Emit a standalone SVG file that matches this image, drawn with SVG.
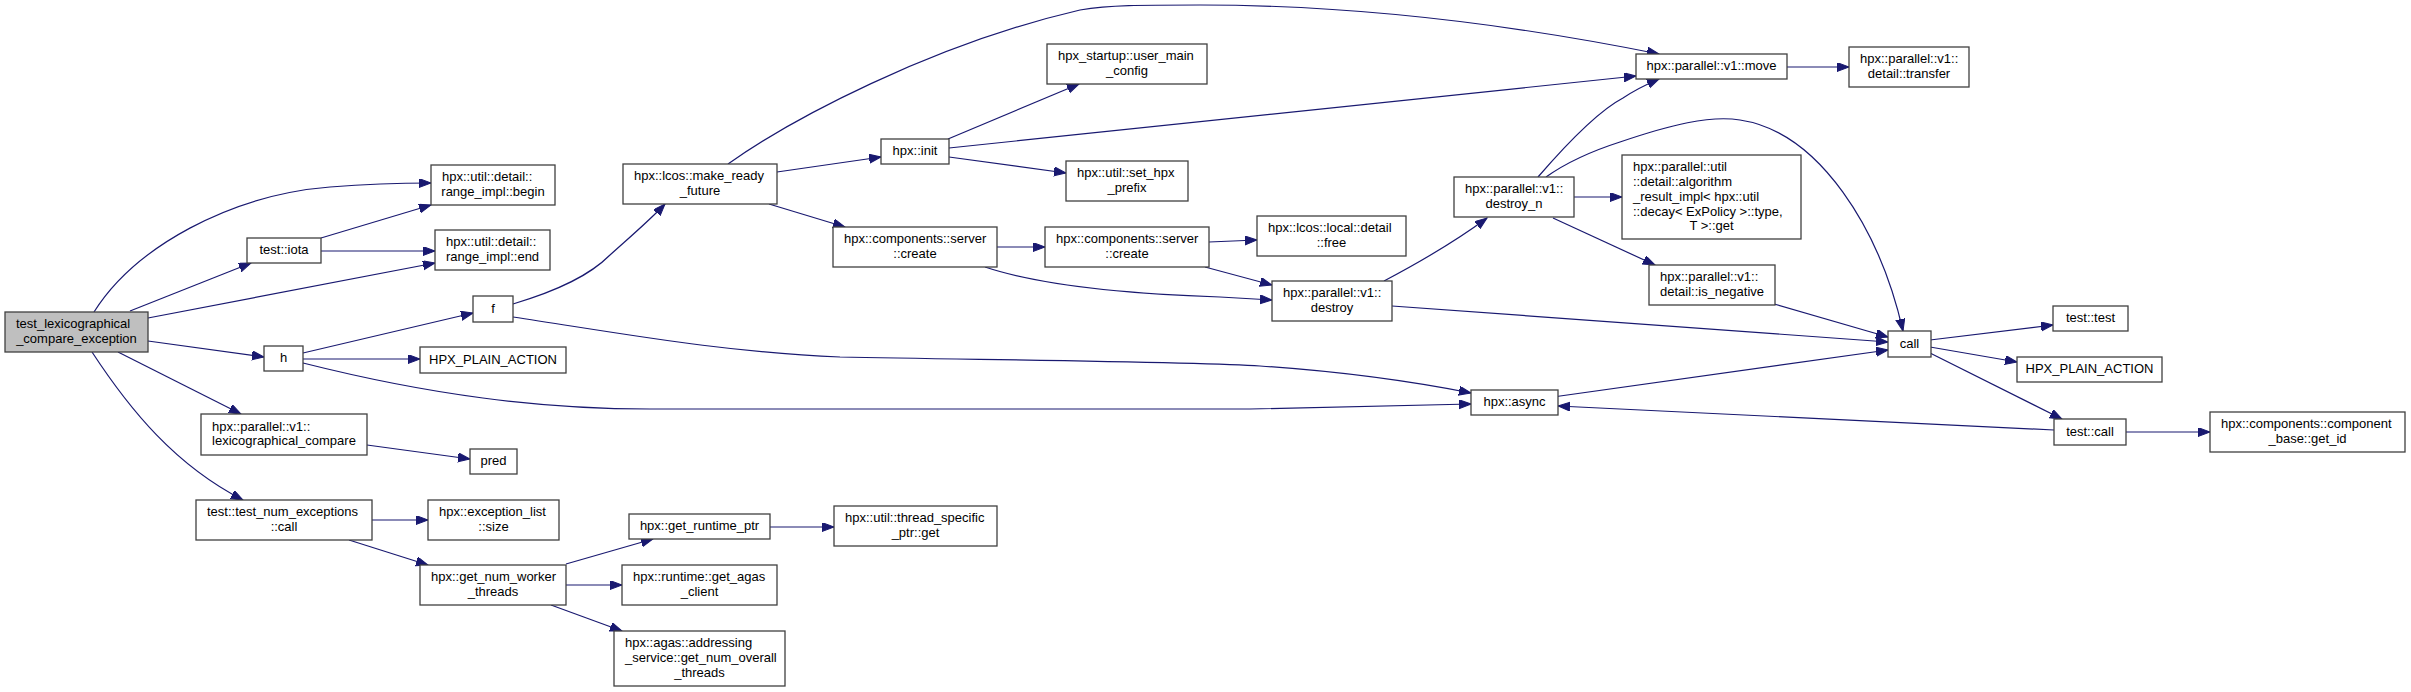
<svg xmlns="http://www.w3.org/2000/svg" width="2411" height="692" viewBox="0 0 2411 692">
<style>
.node rect{fill:#ffffff;stroke:#404040;stroke-width:1.3}
.node.main rect{fill:#bfbfbf}
text{font-family:"Liberation Sans",Arial,sans-serif;font-size:13px;fill:#000}
.c{text-anchor:middle}
.edges path{fill:none;stroke:#191970;stroke-width:1.2;marker-end:url(#arr)}
</style>
<defs>
<marker id="arr" markerUnits="userSpaceOnUse" markerWidth="13" markerHeight="10" refX="12" refY="4.5" orient="auto">
<path d="M0,0 L12,4.5 L0,9 Z" fill="#191970" stroke="#191970" stroke-width="1"/>
</marker>
</defs>
<rect width="2411" height="692" fill="#ffffff"/>
<g class="edges">
<path d="M94,312 C135,247 230,195 330,187 C380,183 410,183 431,183"/>
<path d="M130,311 L251,263"/>
<path d="M148,318 L435,263"/>
<path d="M148,341 L264,357"/>
<path d="M118,352 L241,414"/>
<path d="M92,352 C130,410 175,465 243,500"/>
<path d="M321,238 L431,205"/>
<path d="M321,251 L435,251"/>
<path d="M303,353 L473,313"/>
<path d="M303,359 L420,359"/>
<path d="M303,363 C430,395 540,409 650,409 L1250,409 L1471,404"/>
<path d="M513,304 C560,290 590,275 610,255 C630,237 650,220 665,204"/>
<path d="M513,317 C620,333 720,352 840,357 C1000,360 1200,362 1260,366 C1350,372 1420,383 1471,393"/>
<path d="M777,172 L881,157"/>
<path d="M769,204 L845,227"/>
<path d="M728,164 C790,120 930,45 1080,10 C1110,5 1140,5 1200,5 C1380,5 1540,30 1659,54"/>
<path d="M948,139 L1079,84"/>
<path d="M949,157 L1066,173"/>
<path d="M949,148 L1636,76"/>
<path d="M997,247 L1045,247"/>
<path d="M985,267 C1030,282 1100,293 1220,297 L1272,300"/>
<path d="M1209,242 L1257,240"/>
<path d="M1205,267 L1272,285"/>
<path d="M1384,281 C1420,262 1460,238 1487,218"/>
<path d="M1392,306 L1888,342"/>
<path d="M1538,177 C1570,140 1600,110 1623,98 C1635,90 1645,85 1659,79"/>
<path d="M1546,177 C1570,160 1595,150 1620,142 C1670,125 1710,115 1740,120 C1820,132 1880,230 1903,331"/>
<path d="M1574,197 L1622,197"/>
<path d="M1553,218 L1655,265"/>
<path d="M1774,304 L1888,337"/>
<path d="M1787,67 L1849,67"/>
<path d="M1930,340 L2053,325"/>
<path d="M1930,347 L2017,362"/>
<path d="M1930,353 L2062,419"/>
<path d="M1553,397 L1888,350"/>
<path d="M2126,432 L2210,432"/>
<path d="M2054,430 L1558,406"/>
<path d="M367,445 L470,459"/>
<path d="M372,520 L428,520"/>
<path d="M349,540 L428,565"/>
<path d="M566,564 L653,539"/>
<path d="M566,585 L622,585"/>
<path d="M551,605 L622,631"/>
<path d="M770,527 L834,527"/>
</g>
<g id="n_main" class="node main"><rect x="5" y="312" width="143" height="40"/><text x="16" y="328">test_lexicographical</text><text class="c" x="76.5" y="342.8">_compare_exception</text></g>
<g id="n_begin" class="node"><rect x="431" y="165" width="124" height="40"/><text x="442" y="181">hpx::util::detail::</text><text class="c" x="493" y="195.8">range_impl::begin</text></g>
<g id="n_end" class="node"><rect x="435" y="230" width="115" height="40"/><text x="446" y="246">hpx::util::detail::</text><text class="c" x="492.5" y="260.8">range_impl::end</text></g>
<g id="n_iota" class="node"><rect x="247" y="238" width="74" height="25"/><text class="c" x="284" y="254.2">test::iota</text></g>
<g id="n_f" class="node"><rect x="473" y="296" width="40" height="26"/><text class="c" x="493" y="312.7">f</text></g>
<g id="n_h" class="node"><rect x="264" y="346" width="39" height="25"/><text class="c" x="283.5" y="362.2">h</text></g>
<g id="n_hpa1" class="node"><rect x="420" y="347" width="146" height="26"/><text class="c" x="493" y="363.7">HPX_PLAIN_ACTION</text></g>
<g id="n_lex" class="node"><rect x="201" y="414" width="166" height="41"/><text x="212" y="430.5">hpx::parallel::v1::</text><text class="c" x="284" y="445.3">lexicographical_compare</text></g>
<g id="n_pred" class="node"><rect x="470" y="449" width="47" height="25"/><text class="c" x="493.5" y="465.2">pred</text></g>
<g id="n_tnec" class="node"><rect x="196" y="500" width="176" height="40"/><text x="207" y="516">test::test_num_exceptions</text><text class="c" x="284" y="530.8">::call</text></g>
<g id="n_els" class="node"><rect x="428" y="500" width="131" height="40"/><text x="439" y="516">hpx::exception_list</text><text class="c" x="493.5" y="530.8">::size</text></g>
<g id="n_gnwt" class="node"><rect x="420" y="565" width="146" height="40"/><text x="431" y="581">hpx::get_num_worker</text><text class="c" x="493" y="595.8">_threads</text></g>
<g id="n_mrf" class="node"><rect x="623" y="164" width="154" height="40"/><text x="634" y="180">hpx::lcos::make_ready</text><text class="c" x="700" y="194.8">_future</text></g>
<g id="n_init" class="node"><rect x="881" y="139" width="68" height="25"/><text class="c" x="915" y="155.2">hpx::init</text></g>
<g id="n_umc" class="node"><rect x="1047" y="44" width="160" height="40"/><text x="1058" y="60">hpx_startup::user_main</text><text class="c" x="1127" y="74.8">_config</text></g>
<g id="n_shp" class="node"><rect x="1066" y="161" width="122" height="40"/><text x="1077" y="177">hpx::util::set_hpx</text><text class="c" x="1127" y="191.8">_prefix</text></g>
<g id="n_csc1" class="node"><rect x="833" y="227" width="164" height="40"/><text x="844" y="243">hpx::components::server</text><text class="c" x="915" y="257.8">::create</text></g>
<g id="n_csc2" class="node"><rect x="1045" y="227" width="164" height="40"/><text x="1056" y="243">hpx::components::server</text><text class="c" x="1127" y="257.8">::create</text></g>
<g id="n_grp" class="node"><rect x="629" y="514" width="141" height="25"/><text class="c" x="699.5" y="530.2">hpx::get_runtime_ptr</text></g>
<g id="n_tsp" class="node"><rect x="834" y="506" width="163" height="40"/><text x="845" y="522">hpx::util::thread_specific</text><text class="c" x="915.5" y="536.8">_ptr::get</text></g>
<g id="n_gac" class="node"><rect x="622" y="565" width="155" height="40"/><text x="633" y="581">hpx::runtime::get_agas</text><text class="c" x="699.5" y="595.8">_client</text></g>
<g id="n_gnot" class="node"><rect x="614" y="631" width="171" height="55"/><text x="625" y="647.4">hpx::agas::addressing</text><text x="625" y="662.2">_service::get_num_overall</text><text class="c" x="699.5" y="677">_threads</text></g>
<g id="n_move" class="node"><rect x="1636" y="54" width="151" height="25"/><text class="c" x="1711.5" y="70.2">hpx::parallel::v1::move</text></g>
<g id="n_destroy_n" class="node"><rect x="1454" y="177" width="120" height="40"/><text x="1465" y="193">hpx::parallel::v1::</text><text class="c" x="1514" y="207.8">destroy_n</text></g>
<g id="n_ari" class="node"><rect x="1622" y="155" width="179" height="84"/><text x="1633" y="171.1">hpx::parallel::util</text><text x="1633" y="185.9">::detail::algorithm</text><text x="1633" y="200.7">_result_impl&lt; hpx::util</text><text x="1633" y="215.5">::decay&lt; ExPolicy &gt;::type,</text><text class="c" x="1711.5" y="230.3">T &gt;::get</text></g>
<g id="n_free" class="node"><rect x="1257" y="216" width="149" height="40"/><text x="1268" y="232">hpx::lcos::local::detail</text><text class="c" x="1331.5" y="246.8">::free</text></g>
<g id="n_destroy" class="node"><rect x="1272" y="281" width="120" height="40"/><text x="1283" y="297">hpx::parallel::v1::</text><text class="c" x="1332" y="311.8">destroy</text></g>
<g id="n_isneg" class="node"><rect x="1649" y="265" width="126" height="40"/><text x="1660" y="281">hpx::parallel::v1::</text><text class="c" x="1712" y="295.8">detail::is_negative</text></g>
<g id="n_async" class="node"><rect x="1471" y="390" width="87" height="25"/><text class="c" x="1514.5" y="406.2">hpx::async</text></g>
<g id="n_transfer" class="node"><rect x="1849" y="47" width="120" height="40"/><text x="1860" y="63">hpx::parallel::v1::</text><text class="c" x="1909" y="77.8">detail::transfer</text></g>
<g id="n_call" class="node"><rect x="1888" y="331" width="43" height="26"/><text class="c" x="1909.5" y="347.7">call</text></g>
<g id="n_testtest" class="node"><rect x="2053" y="306" width="75" height="25"/><text class="c" x="2090.5" y="322.2">test::test</text></g>
<g id="n_hpa2" class="node"><rect x="2017" y="357" width="145" height="25"/><text class="c" x="2089.5" y="373.2">HPX_PLAIN_ACTION</text></g>
<g id="n_tcall" class="node"><rect x="2054" y="419" width="72" height="26"/><text class="c" x="2090" y="435.7">test::call</text></g>
<g id="n_getid" class="node"><rect x="2210" y="412" width="195" height="40"/><text x="2221" y="428">hpx::components::component</text><text class="c" x="2307.5" y="442.8">_base::get_id</text></g>
</svg>
